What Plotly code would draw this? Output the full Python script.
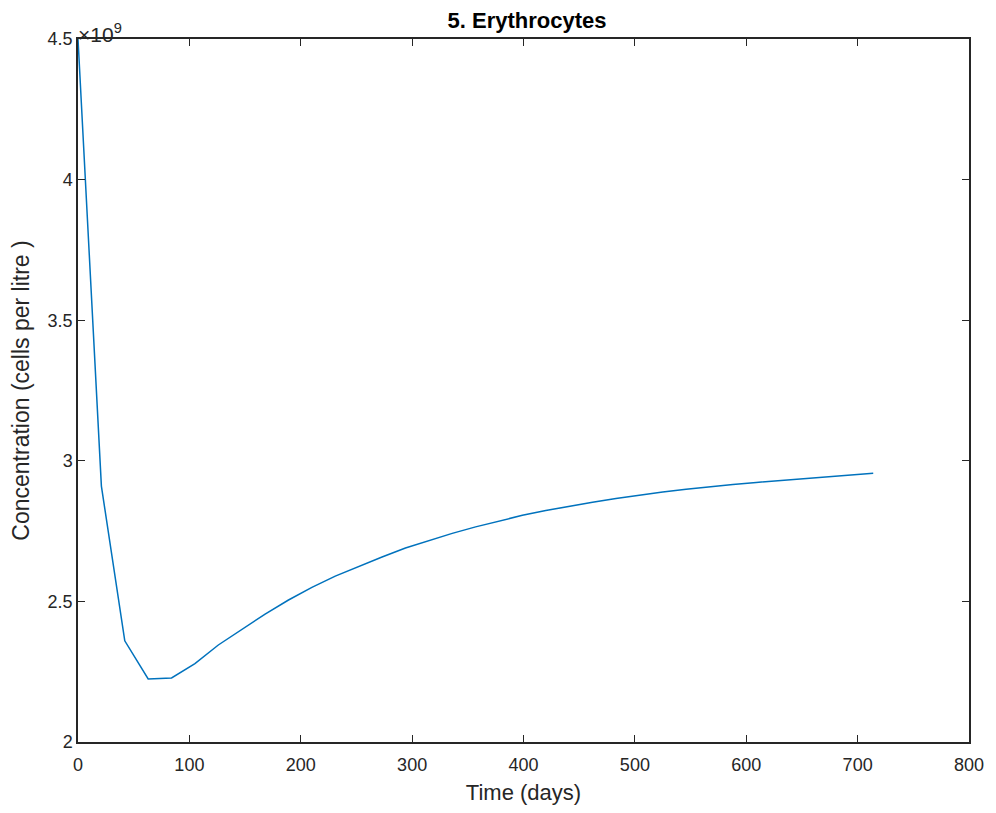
import plotly.graph_objects as go

time_days = [0, 21, 42, 63, 84, 105, 126, 147, 168, 189, 210, 231, 252, 273, 294,
             315, 336, 357, 378, 399, 420, 441, 462, 483, 504, 525, 546, 567, 588,
             609, 630, 651, 672, 693, 714]
conc_e9 = [4.50, 2.910, 2.360, 2.224, 2.228, 2.279, 2.345, 2.400, 2.455, 2.505,
           2.550, 2.590, 2.625, 2.658, 2.690, 2.717, 2.742, 2.765, 2.786, 2.806,
           2.823, 2.839, 2.853, 2.866, 2.878, 2.889, 2.899, 2.908, 2.916, 2.923,
           2.930, 2.937, 2.944, 2.950, 2.956]
concentration = [v * 1e9 for v in conc_e9]

y_tickvals = [2.0e9, 2.5e9, 3.0e9, 3.5e9, 4.0e9, 4.5e9]
y_ticktext = ["2", "2.5", "3", "3.5", "4", "4.5"]
x_tickvals = [0, 100, 200, 300, 400, 500, 600, 700, 800]

axis_col = "#262626"
font_family = "Liberation Sans, Arial, sans-serif"

fig = go.Figure()
fig.add_trace(go.Scatter(x=time_days, y=concentration, mode="lines",
                         line=dict(color="#0072BD", width=1.5),
                         showlegend=False))

fig.update_layout(
    width=988, height=805,
    margin=dict(l=70, r=22, t=31, b=70),
    paper_bgcolor="white", plot_bgcolor="white",
    font=dict(family=font_family, color=axis_col, size=18),
    title=dict(text="<b>5. Erythrocytes</b>", x=0.5253, xanchor="center",
               y=0.985, yanchor="middle",
               font=dict(size=22, color="#000000", family=font_family)),
)
fig.update_xaxes(range=[0, 800], tickvals=x_tickvals, ticks="inside", ticklen=7,
                 tickwidth=1.3, tickcolor=axis_col, showline=True, linecolor=axis_col,
                 linewidth=1.5, mirror="ticks", showgrid=False, zeroline=False,
                 tickfont=dict(size=18, color=axis_col), ticklabelstandoff=6,
                 title=dict(text="Time (days)", font=dict(size=22, color=axis_col),
                            standoff=10))
fig.update_yaxes(range=[2.0e9, 4.5e9], tickvals=y_tickvals, ticktext=y_ticktext,
                 ticks="inside", ticklen=7, tickwidth=1.3, tickcolor=axis_col,
                 showline=True, linecolor=axis_col, linewidth=1.5, mirror="ticks",
                 showgrid=False, zeroline=False,
                 tickfont=dict(size=18, color=axis_col),
                 title=dict(text="Concentration (cells per litre )",
                            font=dict(size=23, color=axis_col), standoff=12))
fig.add_annotation(text="×10<sup>9</sup>", xref="paper", yref="paper",
                   x=0.0, y=1.0, xanchor="left", yanchor="bottom", showarrow=False,
                   font=dict(size=21, color=axis_col, family=font_family),
                   xshift=-2, yshift=-9)

fig.write_html("out.html")
